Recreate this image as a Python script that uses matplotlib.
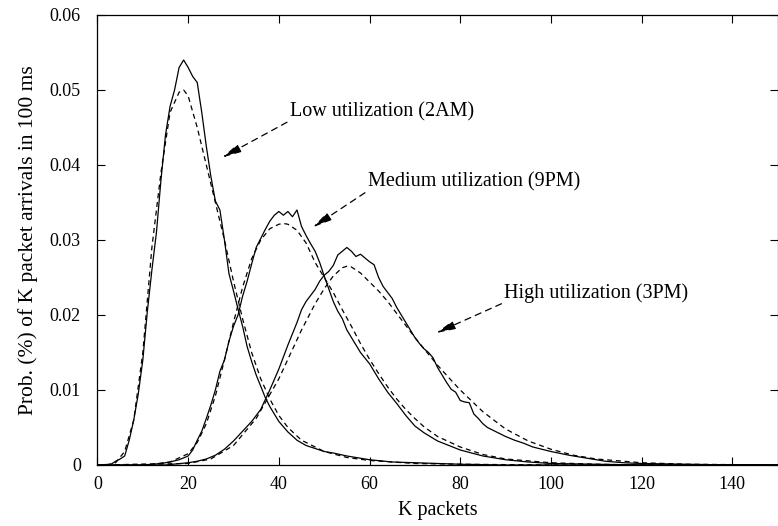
import matplotlib
matplotlib.use("Agg")
import matplotlib.pyplot as plt

# Packet arrival distributions per 100 ms window, measured (solid) and fitted (dashed)
low_k = [0, 3, 4, 5, 6, 7, 8, 9, 10, 11, 12, 13, 14, 15, 16, 17, 18, 19, 20, 21,
         22, 23, 24, 25, 26, 27, 28, 29, 30, 31, 32, 33, 34, 35, 36, 37, 38, 40,
         42, 44, 46, 48, 50, 52, 55, 58, 60, 65, 70, 80, 90, 150]
low_meas = [0, 0.0001, 0.0005, 0.0008, 0.0012, 0.0033, 0.0060, 0.0095, 0.0140,
            0.0205, 0.0260, 0.0310, 0.0380, 0.0440, 0.0478, 0.0500, 0.0530, 0.0540,
            0.0530, 0.0518, 0.0510, 0.0470, 0.0425, 0.0385, 0.0352, 0.0340, 0.0300,
            0.0255, 0.0232, 0.0208, 0.0185, 0.0158, 0.0138, 0.0120, 0.0105, 0.0090,
            0.0078, 0.0058, 0.0044, 0.0033, 0.0026, 0.0022, 0.0018, 0.0016, 0.0012,
            0.0009, 0.0007, 0.0004, 0.0003, 0.0001, 0, 0]

low_fit_k = [0, 2, 4, 6, 8, 10, 12, 14, 16, 18, 19, 20, 22, 24, 26, 28, 30, 32, 34,
             36, 38, 40, 42, 45, 50, 55, 60, 70, 80, 100, 150]
low_fit = [0, 0, 0.0003, 0.0018, 0.0060, 0.0150, 0.0290, 0.0390, 0.0470, 0.0497,
           0.0500, 0.0492, 0.0450, 0.0400, 0.0350, 0.0300, 0.0245, 0.0195, 0.0150,
           0.0115, 0.0088, 0.0066, 0.0050, 0.0033, 0.0018, 0.0010, 0.0006, 0.0002,
           0.0001, 0, 0]

med_k = [0, 10, 12, 14, 16, 18, 20, 21, 22, 23, 24, 25, 26, 27, 28, 29, 30, 31, 32,
         33, 34, 35, 36, 37, 38, 39, 40, 41, 42, 43, 44, 45, 46, 47, 48, 49, 50, 51,
         52, 53, 54, 55, 56, 58, 60, 62, 64, 66, 68, 70, 72, 75, 80, 85, 90, 95, 100,
         110, 120, 150]
med_meas = [0, 0, 0.0001, 0.0002, 0.0004, 0.0007, 0.0012, 0.0020, 0.0033, 0.0045,
            0.0062, 0.0080, 0.0100, 0.0125, 0.0140, 0.0165, 0.0185, 0.0200, 0.0225,
            0.0245, 0.0268, 0.0290, 0.0302, 0.0314, 0.0325, 0.0333, 0.0338, 0.0333,
            0.0338, 0.0331, 0.0340, 0.0318, 0.0306, 0.0295, 0.0285, 0.0270, 0.0252,
            0.0235, 0.0218, 0.0205, 0.0195, 0.0180, 0.0170, 0.0150, 0.0135, 0.0115,
            0.0097, 0.0082, 0.0066, 0.0052, 0.0043, 0.0032, 0.0020, 0.0012, 0.0007,
            0.0004, 0.0002, 0.0001, 0, 0]

med_fit_k = [0, 12, 16, 20, 22, 24, 26, 28, 30, 32, 34, 36, 38, 40, 41, 42, 44, 46,
             48, 50, 52, 54, 56, 58, 60, 62, 64, 66, 68, 70, 72, 75, 80, 85, 90, 100,
             110, 120, 150]
med_fit = [0, 0.0001, 0.0004, 0.0015, 0.0030, 0.0055, 0.0092, 0.0140, 0.0190,
           0.0237, 0.0275, 0.0300, 0.0315, 0.0321, 0.0322, 0.0321, 0.0313, 0.0296,
           0.0270, 0.0250, 0.0230, 0.0207, 0.0185, 0.0162, 0.0141, 0.0122, 0.0104,
           0.0088, 0.0074, 0.0062, 0.0051, 0.0038, 0.0024, 0.0014, 0.0008, 0.0003,
           0.0001, 0, 0]

high_k = [0, 15, 20, 22, 24, 26, 28, 30, 32, 34, 36, 38, 40, 42, 44, 45, 46, 47, 48,
          49, 50, 51, 52, 53, 54, 55, 56, 57, 58, 59, 60, 61, 62, 63, 64, 65, 66, 67,
          68, 69, 70, 71, 72, 73, 74, 75, 76, 77, 78, 79, 80, 81, 82, 83, 84, 85, 86,
          88, 90, 92, 94, 96, 98, 100, 104, 108, 112, 116, 120, 130, 140, 150]
high_meas = [0, 0, 0.0003, 0.0005, 0.0008, 0.0013, 0.0021, 0.0032, 0.0045, 0.0058,
             0.0074, 0.0100, 0.0128, 0.0160, 0.0190, 0.0207, 0.0218, 0.0226, 0.0234,
             0.0245, 0.0253, 0.0258, 0.0266, 0.0280, 0.0285, 0.0290, 0.0285, 0.0278,
             0.0281, 0.0276, 0.0271, 0.0267, 0.0250, 0.0238, 0.0230, 0.0222, 0.0210,
             0.0200, 0.0190, 0.0180, 0.0170, 0.0162, 0.0155, 0.0150, 0.0143, 0.0130,
             0.0120, 0.0110, 0.0101, 0.0097, 0.0086, 0.0084, 0.0083, 0.0068, 0.0062,
             0.0055, 0.0050, 0.0044, 0.0038, 0.0033, 0.0029, 0.0024, 0.0021, 0.0018,
             0.0013, 0.0009, 0.0005, 0.0003, 0.0002, 0.0001, 0, 0]

high_fit_k = [0, 20, 25, 30, 35, 40, 45, 48, 50, 52, 54, 55, 56, 58, 60, 62, 64, 66,
              68, 70, 72, 75, 78, 80, 85, 90, 95, 100, 105, 110, 120, 130, 150]
high_fit = [0, 0.0002, 0.0008, 0.0026, 0.0062, 0.0115, 0.0180, 0.0215, 0.0235,
            0.0252, 0.0263, 0.0265, 0.0264, 0.0256, 0.0244, 0.0232, 0.0218, 0.0202,
            0.0186, 0.0170, 0.0155, 0.0133, 0.0113, 0.0100, 0.0071, 0.0048, 0.0032,
            0.0021, 0.0013, 0.0008, 0.0003, 0.0001, 0]

labels = ["Low utilization (2AM)", "Medium utilization (9PM)", "High utilization (3PM)"]
label_xy = [(42.4, 0.0471), (59.6, 0.0377), (89.7, 0.0229)]
arrow_tip = [(27.5, 0.0410), (47.5, 0.0317), (74.7, 0.0176)]

plt.rcParams["font.family"] = "Liberation Serif"
plt.rcParams["font.size"] = 13

fig = plt.figure(figsize=(7.78, 5.26), dpi=100)
ax = fig.add_axes([0.1253, 0.116, 0.8742, 0.8555])

for k, p in [(low_k, low_meas), (med_k, med_meas), (high_k, high_meas)]:
    ax.plot(k, p, color="black", lw=0.9)
for k, p in [(low_fit_k, low_fit), (med_fit_k, med_fit), (high_fit_k, high_fit)]:
    ax.plot(k, p, color="black", lw=0.9, ls=(0, (4, 3)))

for text, xy, tip in zip(labels, label_xy, arrow_tip):
    ax.annotate("", xy=tip, xytext=(xy[0] - 0.6, xy[1] - 0.0014),
                arrowprops=dict(arrowstyle="-|>,head_length=0.9,head_width=0.2",
                                color="black", lw=0.9, ls=(0, (5, 4)),
                                shrinkA=0, shrinkB=0))
    ax.text(xy[0], xy[1], text, ha="left", va="center", fontsize=14.5)

ax.set_xlim(0, 150)
ax.set_ylim(0, 0.06)
ax.set_xticks(range(0, 150, 20))
ax.set_yticks([0, 0.01, 0.02, 0.03, 0.04, 0.05, 0.06])
ax.set_yticklabels(["0", "0.01", "0.02", "0.03", "0.04", "0.05", "0.06"])
ax.tick_params(direction="in", length=6, width=0.8, top=True, right=True)
ax.tick_params(axis="y", pad=12)
ax.tick_params(axis="x", pad=8)
for s in ax.spines.values():
    s.set_linewidth(0.9)

ax.set_xlabel("K packets", fontsize=14.5)
ax.set_ylabel("Prob. (%) of K packet arrivals in 100 ms", fontsize=15.5)
ax.xaxis.set_label_coords(0.5, -0.08)
ax.yaxis.set_label_coords(-0.088, 0.5)

fig.savefig("out.png", dpi=100)
